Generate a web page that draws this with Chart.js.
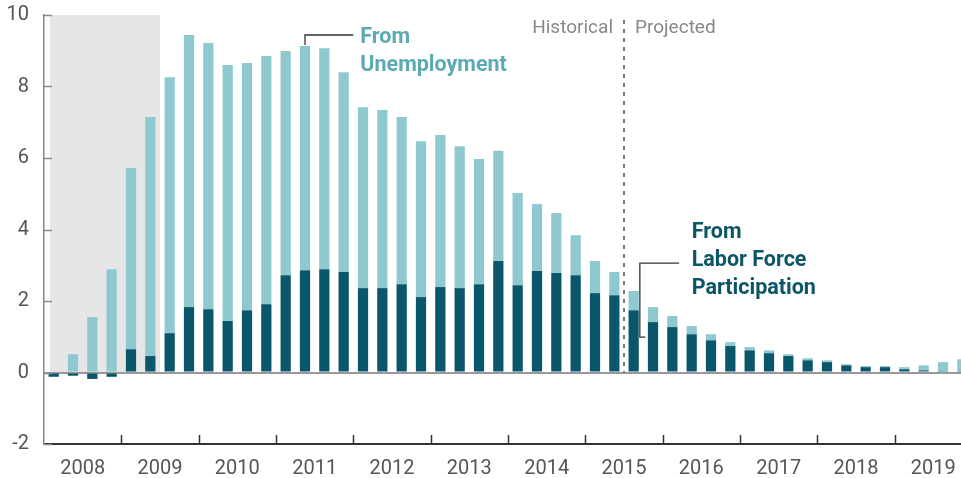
<!DOCTYPE html>
<html>
<head>
<meta charset="utf-8">
<script src="https://cdn.jsdelivr.net/npm/chart.js@4.4.1/dist/chart.umd.min.js"></script>
<style>
  html, body { margin: 0; padding: 0; background: #fff; overflow: hidden; }
  #wrap { width: 972px; height: 478px; position: relative; }
</style>
</head>
<body>
<div id="wrap"><canvas id="chart"></canvas></div>
<script>
// ---------------- DATA ----------------
const years = ["2008", "2009", "2010", "2011", "2012", "2013", "2014", "2015", "2016", "2017", "2018", "2019"];
const quarters = years.flatMap(y => ["Q1", "Q2", "Q3", "Q4"].map(q => y + q));

// percentage points, quarterly 2008Q1 - 2019Q4
const laborForce = [
    -0.12, -0.09, -0.18, -0.12,  0.65, 0.46, 1.10, 1.83,  1.77, 1.44, 1.74, 1.91,
     2.72,  2.86,  2.89,  2.81,  2.36, 2.36, 2.47, 2.11,  2.39, 2.36, 2.47, 3.12,
     2.44,  2.84,  2.78,  2.72,  2.22, 2.16, 1.74, 1.41,  1.27, 1.07, 0.90, 0.74,
     0.62,  0.54,  0.46,  0.34,  0.29, 0.20, 0.15, 0.15,  0.09, 0.06, 0.04, 0.04
];
const unemployment = [
     0.00,  0.51,  1.55,  2.89,  5.07, 6.69, 7.16, 7.61,  7.45, 7.16, 6.92, 6.94,
     6.27,  6.27,  6.18,  5.59,  5.06, 4.98, 4.68, 4.36,  4.25, 3.97, 3.50, 3.08,
     2.58,  1.87,  1.68,  1.12,  0.90, 0.65, 0.54, 0.42,  0.31, 0.23, 0.17, 0.11,
     0.09,  0.08,  0.05,  0.06,  0.05, 0.03, 0.03, 0.03,  0.06, 0.14, 0.25, 0.33
];
const yTicks = [-2, 0, 2, 4, 6, 8, 10];

const recession = [-0.19, 5.5];   // quarter index range
const projectionStart = 29.5;     // between 2015Q2 and 2015Q3

const DARK = "#0a566a";
const LIGHT = "#8fc9d0";
const FONT = "Roboto, 'Liberation Sans', sans-serif";

// ---------------- DECORATION ----------------
const decor = {
    id: "decor",
    beforeDraw(chart) {
        const { ctx, scales } = chart;
        const x = scales.x, y = scales.y;
        const step = x.getPixelForValue(1) - x.getPixelForValue(0);
        const x0 = x.getPixelForValue(0) + recession[0] * step;
        const x1 = x.getPixelForValue(0) + recession[1] * step;
        ctx.save();
        ctx.fillStyle = "#e6e6e6";
        ctx.fillRect(x0, y.getPixelForValue(10), x1 - x0, y.getPixelForValue(0) - y.getPixelForValue(10));
        ctx.restore();
    },
    afterDatasetsDraw(chart) {
        const { ctx, chartArea, scales } = chart;
        const x = scales.x, y = scales.y, yr = scales.year;
        const step = x.getPixelForValue(1) - x.getPixelForValue(0);
        const px = i => x.getPixelForValue(0) + i * step;
        ctx.save();

        // inward y ticks
        ctx.strokeStyle = "#888";
        ctx.lineWidth = 1.5;
        yTicks.forEach(v => {
            const py = Math.round(y.getPixelForValue(v)) + 0.5;
            ctx.beginPath();
            ctx.moveTo(chartArea.left, py);
            ctx.lineTo(chartArea.left + 8, py);
            ctx.stroke();
        });

        // year boundary ticks
        ctx.strokeStyle = "#333";
        for (let i = 1; i < years.length; i++) {
            const bx = Math.round((yr.getPixelForValue(i - 1) + yr.getPixelForValue(i)) / 2) + 0.5;
            ctx.beginPath();
            ctx.moveTo(bx, chartArea.bottom);
            ctx.lineTo(bx, chartArea.bottom - 9);
            ctx.stroke();
        }

        // historical / projected divider
        const dx = Math.round(px(projectionStart));
        ctx.strokeStyle = "#777";
        ctx.lineWidth = 2;
        ctx.setLineDash([4, 5]);
        ctx.beginPath();
        ctx.moveTo(dx, 20);
        ctx.lineTo(dx, y.getPixelForValue(0));
        ctx.stroke();
        ctx.setLineDash([]);

        ctx.font = "19px " + FONT;
        ctx.fillStyle = "#888";
        ctx.textBaseline = "middle";
        ctx.textAlign = "right";
        ctx.fillText("Historical", dx - 11, 28);
        ctx.textAlign = "left";
        ctx.fillText("Projected", dx + 11, 28);

        // leader lines
        ctx.strokeStyle = "#333";
        ctx.lineWidth = 1.3;
        ctx.beginPath();
        ctx.moveTo(px(13), y.getPixelForValue(9.16));
        ctx.lineTo(px(13), y.getPixelForValue(9.44));
        ctx.lineTo(px(15.5), y.getPixelForValue(9.44));
        ctx.stroke();

        ctx.beginPath();
        ctx.moveTo(px(32.35), y.getPixelForValue(3.06));
        ctx.lineTo(px(30.32), y.getPixelForValue(3.06));
        ctx.lineTo(px(30.32), y.getPixelForValue(0.99));
        ctx.lineTo(px(30.6), y.getPixelForValue(0.99));
        ctx.stroke();

        // labels
        ctx.font = "bold 21.5px " + FONT;
        ctx.textAlign = "left";
        ctx.fillStyle = "#5baab3";
        ctx.fillText("From", px(15.86), 38);
        ctx.fillText("Unemployment", px(15.86), 66);
        ctx.fillStyle = "#0b5567";
        ctx.fillText("From", px(33.0), 233);
        ctx.fillText("Labor Force", px(33.0), 261);
        ctx.fillText("Participation", px(33.0), 289);
        ctx.restore();
    }
};

// ---------------- CHART ----------------
new Chart(document.getElementById("chart"), {
    type: "bar",
    data: {
        labels: quarters,
        datasets: [
            { label: "From Labor Force Participation", data: laborForce, backgroundColor: DARK,
              categoryPercentage: 1, barPercentage: 0.53 },
            { label: "From Unemployment", data: unemployment, backgroundColor: LIGHT,
              categoryPercentage: 1, barPercentage: 0.53 }
        ]
    },
    options: {
        responsive: true,
        maintainAspectRatio: false,
        animation: false,
        layout: { padding: { top: 15, right: 0, left: 0, bottom: 0 } },
        plugins: { legend: { display: false }, tooltip: { enabled: false } },
        scales: {
            x: { stacked: true, display: false },
            year: {
                axis: "x",
                type: "category",
                labels: years,
                position: "bottom",
                offset: true,
                grid: { display: true, drawOnChartArea: false, drawTicks: false, offset: true },
                border: { display: true, color: "#333", width: 2 },
                ticks: { color: "#555", font: { family: FONT, size: 20 }, padding: 13, maxRotation: 0, autoSkip: false },
                afterFit: s => { s.height = 34; s.paddingLeft = 0; s.paddingRight = 0; }
            },
            y: {
                stacked: true,
                min: -2,
                max: 10,
                afterBuildTicks: s => { s.ticks = yTicks.map(v => ({ value: v })); },
                grid: {
                    drawTicks: false,
                    color: c => (c.tick && c.tick.value === 0 ? "#999" : "rgba(0,0,0,0)"),
                    lineWidth: 2
                },
                border: { display: true, color: "#888", width: 1.5 },
                ticks: { color: "#555", font: { family: FONT, size: 20 }, padding: 15 },
                afterFit: s => { s.width = 44; s.paddingTop = 0; s.paddingBottom = 0; }
            }
        }
    },
    plugins: [decor]
});
</script>
</body>
</html>
